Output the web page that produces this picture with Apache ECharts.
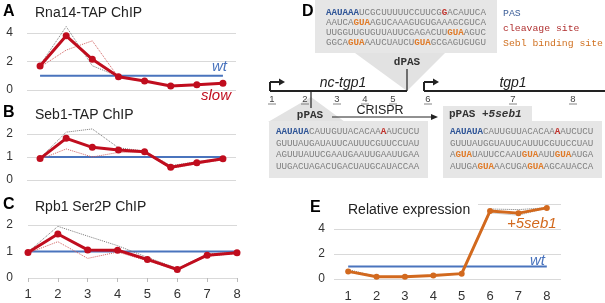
<!DOCTYPE html>
<html>
<head>
<meta charset="utf-8">
<script src="https://cdn.jsdelivr.net/npm/echarts@6/dist/echarts.min.js"></script>
<style>
  html, body { margin: 0; padding: 0; background: #fff; }
  #chart { width: 605px; height: 303px; }
</style>
</head>
<body>
<div id="chart"></div>
<script>
// probe positions along the locus (x categories)
var positions = ['1', '2', '3', '4', '5', '6', '7', '8'];
var wtLevel = [1, 1, 1, 1, 1, 1, 1, 1];

// A: Rna14-TAP ChIP (slow mutant, mean + two replicates)
var rna14Slow = [1.68, 3.8, 2.15, 0.93, 0.63, 0.28, 0.37, 0.47];
var rna14Rep1 = [1.75, 4.45, 1.7, 0.95, 0.66, 0.3, 0.38, 0.5];
var rna14Rep2 = [1.6, 2.8, 3.45, 0.88, 0.6, 0.26, 0.35, 0.44];

// B: Seb1-TAP ChIP
var seb1Slow = [0.93, 1.81, 1.42, 1.3, 1.23, 0.55, 0.75, 0.92];
var seb1Rep1 = [0.95, 2.08, 2.22, 1.4, 1.26, 0.62, 0.8, 0.95];
var seb1Rep2 = [0.9, 1.35, 1.0, 1.2, 1.2, 0.5, 0.7, 0.88];

// C: Rpb1 Ser2P ChIP
var rpb1Slow = [0.96, 1.66, 1.06, 1.05, 0.7, 0.32, 0.86, 0.95];
var rpb1Rep1 = [0.98, 1.95, 1.58, 1.22, 0.78, 0.36, 0.9, 0.97];
var rpb1Rep2 = [0.94, 1.37, 0.74, 0.98, 0.65, 0.3, 0.82, 0.93];

// E: relative expression, +5seb1
var exprSeb1 = [0.61, 0.18, 0.18, 0.28, 0.43, 5.44, 5.27, 5.69];
var exprRep1 = [0.75, 0.2, 0.2, 0.3, 0.45, 5.6, 5.55, 5.7];
var exprRep2 = [0.55, 0.16, 0.17, 0.26, 0.4, 5.3, 5.1, 5.68];

var RED = '#c00d1e', BLUE = '#4a74bd', ORANGE = '#d2691e', GRID = '#d9d9d9';
var SANS = 'Arial, "Liberation Sans", sans-serif';
var MONO = '"Liberation Mono", "DejaVu Sans Mono", monospace';

var grids = [
  { left: 27, width: 209, top: 33, height: 57 },   // A
  { left: 27, width: 209, top: 134, height: 46 },  // B
  { left: 28, width: 209, top: 225, height: 53 },  // C
  { left: 334, width: 227, top: 204, height: 78 }  // E
];

function xAxisFor(i, gap, showLabels, margin) {
  return {
    gridIndex: i, type: 'category', data: positions, boundaryGap: gap,
    axisLine: { show: false },
    axisTick: { show: showLabels && !gap, length: 4, lineStyle: { color: '#bbb' } },
    axisLabel: { show: showLabels, color: '#333', fontSize: 13, fontFamily: SANS, margin: margin || 10 },
    splitLine: { show: false }
  };
}
function yAxisFor(i, max, step, margin, hideTop) {
  return {
    gridIndex: i, type: 'value', min: 0, max: max, interval: step,
    axisLine: { show: false }, axisTick: { show: false },
    axisLabel: {
      color: '#333', fontSize: 12, fontFamily: SANS, margin: margin,
      formatter: function (v) { return hideTop && v === max ? '' : String(v); }
    },
    splitLine: { lineStyle: { color: GRID, width: 1 } }
  };
}

function panelSeries(i, main, rep1, rep2, color, size) {
  return [
    { type: 'line', xAxisIndex: i, yAxisIndex: i, data: wtLevel, symbol: 'none',
      lineStyle: { color: BLUE, width: 2 }, z: 2 },
    { type: 'line', xAxisIndex: i, yAxisIndex: i, data: rep1, symbol: 'none', clip: false,
      lineStyle: { color: '#777', width: 1, type: 'dotted' }, z: 3 },
    { type: 'line', xAxisIndex: i, yAxisIndex: i, data: rep2, symbol: 'none', clip: false,
      lineStyle: { color: i === 3 ? '#999' : '#d06060', width: 1, type: 'dotted' }, z: 3 },
    { type: 'line', xAxisIndex: i, yAxisIndex: i, data: main, symbol: 'circle', symbolSize: size,
      clip: false, itemStyle: { color: color }, lineStyle: { color: color, width: 3 }, z: 4 }
  ];
}

// sequence text for panel D
var seqTop = [
  [['p', 'AAUAAA'], ['n', 'UCGCUUUUUCCUUCG'], ['c', 'G'], ['n', 'ACAUUCA']],
  [['n', 'AAUCA'], ['s', 'GUA'], ['n', 'AGUCAAAGUGUGAAAGCGUCA']],
  [['n', 'UUGGUUGUGUUAUUCGAGACUU'], ['s', 'GUA'], ['n', 'AGUC']],
  [['n', 'GGCA'], ['s', 'GUA'], ['n', 'AAUCUAUCU'], ['s', 'GUA'], ['n', 'GCGAGUGUGU']]
];
var seqPpas = [
  [['p', 'AAUAUA'], ['n', 'CAUUGUUACACAA'], ['c', 'A'], ['n', 'AUCUCU']],
  [['n', 'GUUUAUGAUAUUCAUUUCGUUCCUAU']],
  [['n', 'AGUUUAUUCGAAUGAAUUGAAUUGAA']],
  [['n', 'UUGACUAGACUGACUAUGCAUACCAA']]
];
var seqSeb = [
  [['p', 'AAUAUA'], ['n', 'CAUUGUUACACAA'], ['c', 'A'], ['n', 'AUCUCU']],
  [['n', 'GUUUAUGGUAUUCAUUUCGUUCCUAU']],
  [['n', 'A'], ['s', 'GUA'], ['n', 'UAUUCCAAU'], ['s', 'GUA'], ['n', 'AUU'], ['s', 'GUA'], ['n', 'AUGA']],
  [['n', 'AUUGA'], ['s', 'GUA'], ['n', 'AACUGA'], ['s', 'GUA'], ['n', 'AGCAUACCA']]
];
var probeX = [272, 305, 337, 365, 393, 428, 513, 573];

var seqRich = {
  n: { fill: '#808080', fontFamily: MONO, fontSize: 9.2 },
  p: { fill: '#2f5597', fontFamily: MONO, fontSize: 9.2, fontWeight: 'bold' },
  c: { fill: '#c0302a', fontFamily: MONO, fontSize: 9.2, fontWeight: 'bold' },
  s: { fill: '#e07b29', fontFamily: MONO, fontSize: 9.2, fontWeight: 'bold' }
};

function txt(x, y, s, font, fill, align, z) {
  return { type: 'text', x: x, y: y, z: z || 20,
    style: { text: s, font: font, fill: fill, align: align || 'left', textAlign: align || 'left',
             verticalAlign: 'middle', textVerticalAlign: 'middle' } };
}
function seqBlock(lines, x, y0, dy) {
  return lines.map(function (line, k) {
    return { type: 'text', x: x, y: y0 + k * dy, z: 20,
      style: { text: line.map(function (s) { return '{' + s[0] + '|' + s[1] + '}'; }).join(''),
               rich: seqRich, font: '9.2px ' + MONO, verticalAlign: 'middle', textVerticalAlign: 'middle' } };
  });
}
function seg(x1, y1, x2, y2, w, c) {
  return { type: 'line', z: 15, shape: { x1: x1, y1: y1, x2: x2, y2: y2 },
           style: { stroke: c || '#222', lineWidth: w || 1 } };
}
function poly(pts, c, z) {
  return { type: 'polygon', z: z || 10, shape: { points: pts }, style: { fill: c } };
}
function box(x, y, w, h, c) {
  return { type: 'rect', z: 10, shape: { x: x, y: y, width: w, height: h }, style: { fill: c || '#e6e6e6' } };
}

var graphics = [
  // panel letters and titles
  txt(3, 12, 'A', 'bold 16px ' + SANS, '#000'),
  txt(35, 13, 'Rna14-TAP ChIP', '14px ' + SANS, '#222'),
  txt(3, 113, 'B', 'bold 16px ' + SANS, '#000'),
  txt(35, 115, 'Seb1-TAP ChIP', '14px ' + SANS, '#222'),
  txt(3, 205, 'C', 'bold 16px ' + SANS, '#000'),
  txt(35, 207, 'Rpb1 Ser2P ChIP', '14px ' + SANS, '#222'),
  txt(212, 67, 'wt', 'italic 15px ' + SANS, BLUE),
  txt(201, 96, 'slow', 'italic 15px ' + SANS, RED),
  // E
  box(300, 196, 178, 20, '#fff'),
  txt(310, 208, 'E', 'bold 16px ' + SANS, '#000'),
  txt(348, 210, 'Relative expression', '14px ' + SANS, '#222'),
  txt(530, 261, 'wt', 'italic 15px ' + SANS, BLUE),
  txt(507, 224, '+5seb1', 'italic 15px ' + SANS, ORANGE),
  // D
  txt(302, 12, 'D', 'bold 16px ' + SANS, '#000'),
  box(315, 0, 182, 53, '#e6e6e6'),
  poly([[355, 53], [445, 53], [407, 91]], '#e2e2e2'),
  txt(503, 13, 'PAS', '9.8px ' + MONO, '#3d5f99'),
  txt(503, 28, 'cleavage site', '9.8px ' + MONO, '#b03030'),
  txt(503, 43, 'Sebl binding site', '9.8px ' + MONO, '#d07020'),
  txt(407, 62, 'dPAS', 'bold 11px ' + MONO, '#333', 'center'),
  seg(407, 69, 407, 91, 1.2),
  // genes
  seg(270, 91, 407, 91, 2),
  seg(270, 91, 270, 82, 2),
  seg(270, 82, 279, 82, 2),
  poly([[279, 78.5], [285, 82], [279, 85.5]], '#222', 16),
  txt(343, 83, 'nc-tgp1', 'italic 14px ' + SANS, '#222', 'center'),
  seg(424, 91, 605, 91, 2),
  seg(424, 91, 424, 82, 2),
  seg(424, 82, 433, 82, 2),
  poly([[433, 78.5], [439, 82], [433, 85.5]], '#222', 16),
  txt(513, 83, 'tgp1', 'italic 14px ' + SANS, '#222', 'center'),
  // pPAS
  poly([[311, 97], [268, 122], [345, 122]], '#e2e2e2'),
  box(269, 121, 159, 57, '#e6e6e6'),
  seg(311, 91, 311, 108, 1.2),
  txt(310, 115, 'pPAS', 'bold 11px ' + MONO, '#333', 'center'),
  seg(332, 117, 432, 117, 1),
  poly([[431, 114], [438, 117], [431, 120]], '#222', 16),
  txt(380, 110.5, 'CRISPR', '12.5px ' + SANS, '#222', 'center'),
  box(443, 106, 89, 16, '#e6e6e6'),
  box(443, 121, 159, 57, '#e6e6e6'),
  { type: 'text', x: 449, y: 114, z: 20,
    style: { text: '{a|pPAS }{b|+5seb1}', verticalAlign: 'middle', textVerticalAlign: 'middle',
             font: 'bold 11px ' + MONO,
             rich: { a: { fill: '#333', fontFamily: MONO, fontSize: 11, fontWeight: 'bold' },
                     b: { fill: '#333', fontFamily: MONO, fontSize: 11, fontWeight: 'bold', fontStyle: 'italic' } } } }
];
probeX.forEach(function (x, k) {
  graphics.push(txt(x, 99, positions[k], '9.5px ' + SANS, '#444', 'center'));
  graphics.push(seg(x - 4, 104, x + 4, 104, 0.8, '#666'));
});
graphics = graphics.concat(seqBlock(seqTop, 326, 13, 10));
graphics = graphics.concat(seqBlock(seqPpas, 276, 132, 11.5));
graphics = graphics.concat(seqBlock(seqSeb, 450, 132, 11.5));

var chart = echarts.init(document.getElementById('chart'), null, { renderer: 'canvas' });
chart.setOption({
  animation: false,
  grid: grids,
  xAxis: [xAxisFor(0, true, false), xAxisFor(1, true, false), xAxisFor(2, false, true, 10), xAxisFor(3, true, true, 11)],
  yAxis: [yAxisFor(0, 4, 2, 14), yAxisFor(1, 2, 1, 14), yAxisFor(2, 2, 1, 15), yAxisFor(3, 6, 2, 9, true)],
  series: [].concat(
    panelSeries(0, rna14Slow, rna14Rep1, rna14Rep2, RED, 7),
    panelSeries(1, seb1Slow, seb1Rep1, seb1Rep2, RED, 7),
    panelSeries(2, rpb1Slow, rpb1Rep1, rpb1Rep2, RED, 7),
    panelSeries(3, exprSeb1, exprRep1, exprRep2, ORANGE, 6)
  ),
  graphic: { elements: graphics }
});
</script>
</body>
</html>
